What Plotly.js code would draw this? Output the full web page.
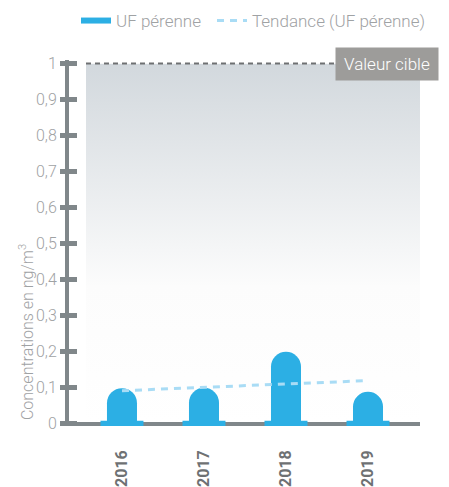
<!DOCTYPE html>
<html>
<head>
<meta charset="utf-8">
<script src="https://cdn.plot.ly/plotly-3.0.1.min.js"></script>
<style>
  html, body { margin: 0; padding: 0; background: #ffffff; }
  #chart { width: 449px; height: 487px; }
</style>
</head>
<body>
<div id="chart"></div>
<script>
// Annual concentrations (ng/m³)
const years = [2016, 2017, 2018, 2019];
const yearLabels = ['2016', '2017', '2018', '2019'];
const ufPerenne = [0.099, 0.1, 0.2, 0.089];
const tendance = [0.092, 0.101, 0.112, 0.12];
const valeurCible = 1;
const yTicks = [0, 0.1, 0.2, 0.3, 0.4, 0.5, 0.6, 0.7, 0.8, 0.9, 1];

const blue = '#2cafe4';
const lightBlue = '#a9dcf5';
const axisGrey = '#80878a';
const textGrey = '#9fa2a4';
const font = 'Roboto, "DejaVu Sans", sans-serif';

// flat "feet" under each bar, on the baseline
const footHalf = 0.262;
const footX = [];
const footY = [];
years.forEach(function (yr) {
  footX.push(yr - footHalf, yr + footHalf, null);
  footY.push(0, 0, null);
});

// vertical fade used behind the plot
const gradSvg = '<svg xmlns="http://www.w3.org/2000/svg" width="10" height="100" preserveAspectRatio="none">' +
  '<defs><linearGradient id="g" x1="0" y1="0" x2="0" y2="1">' +
  '<stop offset="0" stop-color="#d2d8dd"/>' +
  '<stop offset="0.62" stop-color="#fcfcfc"/>' +
  '<stop offset="1" stop-color="#ffffff"/>' +
  '</linearGradient></defs><rect width="10" height="100" fill="url(#g)"/></svg>';
const gradUri = 'data:image/svg+xml;charset=utf-8,' + encodeURIComponent(gradSvg);

const traces = [
  {
    type: 'bar',
    x: years,
    y: ufPerenne,
    width: 0.366,
    marker: { color: blue, cornerradius: 15, line: { width: 0 } },
    showlegend: false,
    hoverinfo: 'x+y'
  },
  {
    type: 'scatter',
    mode: 'lines',
    name: 'UF pérenne',
    x: footX,
    y: footY,
    line: { color: blue, width: 6 },
    connectgaps: false,
    legend: 'legend',
    hoverinfo: 'skip'
  },
  {
    type: 'scatter',
    mode: 'lines',
    name: 'Tendance (UF pérenne)',
    x: years,
    y: tendance,
    yaxis: 'y2',
    line: { color: lightBlue, width: 3, dash: '7px,6px' },
    legend: 'legend2',
    hoverinfo: 'skip'
  }
];

const legendBase = {
  orientation: 'h',
  xref: 'container',
  yref: 'container',
  xanchor: 'left',
  y: 1 - 3 / 487,
  yanchor: 'top',
  font: { family: font, size: 17, color: textGrey, weight: 300 },
  itemclick: false,
  itemdoubleclick: false,
  bgcolor: 'rgba(0,0,0,0)'
};

const layout = {
  width: 449,
  height: 487,
  margin: { l: 69, r: 29, t: 60, b: 61 },
  paper_bgcolor: '#ffffff',
  plot_bgcolor: 'rgba(0,0,0,0)',
  separators: ', ',
  font: { family: font, color: textGrey },
  barmode: 'overlay',
  showlegend: true,
  xaxis: {
    type: 'linear',
    range: [2015.354, 2019.634],
    tickvals: years,
    ticktext: yearLabels,
    tickangle: -90,
    ticks: '',
    showgrid: false,
    zeroline: false,
    showline: false,
    ticklabelstandoff: 20,
    tickfont: { family: font, size: 16, color: '#6e7173', weight: 'bold' },
    fixedrange: true
  },
  yaxis: {
    range: [-0.006, 1.01],
    tickvals: yTicks,
    ticks: 'outside',
    ticklen: 5,
    tickwidth: 5,
    tickcolor: axisGrey,
    showline: true,
    linecolor: axisGrey,
    linewidth: 4,
    showgrid: false,
    zeroline: true,
    zerolinecolor: axisGrey,
    zerolinewidth: 4,
    tickfont: { family: font, size: 16, color: textGrey, weight: 300 },
    fixedrange: true
  },
  yaxis2: {
    overlaying: 'y',
    matches: 'y',
    side: 'left',
    tickvals: yTicks,
    ticks: 'inside',
    ticklen: 8,
    tickwidth: 5,
    tickcolor: axisGrey,
    showticklabels: false,
    showline: false,
    showgrid: false,
    zeroline: false,
    fixedrange: true
  },
  legend: Object.assign({}, legendBase, { x: 76 / 449 }),
  legend2: Object.assign({}, legendBase, { x: 212 / 449 }),
  images: [{
    source: gradUri,
    xref: 'paper',
    yref: 'y',
    x: 17 / 351,
    y: valeurCible,
    sizex: 334 / 351,
    sizey: valeurCible,
    sizing: 'stretch',
    xanchor: 'left',
    yanchor: 'top',
    layer: 'below'
  }],
  shapes: [{
    type: 'line',
    xref: 'paper',
    yref: 'y',
    x0: 17 / 351,
    x1: 266 / 351,
    y0: valeurCible,
    y1: valeurCible,
    line: { color: '#6e7072', width: 2, dash: '5px,4px' },
    layer: 'above'
  }],
  annotations: [
    {
      text: 'Valeur cible',
      xref: 'paper',
      yref: 'y',
      x: 266 / 351,
      y: valeurCible,
      xanchor: 'left',
      yanchor: 'middle',
      showarrow: false,
      bgcolor: '#9d9c9a',
      width: 102,
      height: 32,
      borderpad: 0,
      font: { family: font, size: 17, color: '#ffffff', weight: 300 }
    },
    {
      text: 'Concentrations en ng/m<sup>3</sup>',
      textangle: -90,
      xref: 'paper',
      yref: 'y',
      x: -43 / 351,
      y: 0.005,
      xanchor: 'center',
      yanchor: 'bottom',
      showarrow: false,
      font: { family: font, size: 16, color: textGrey, weight: 300 }
    }
  ]
};

Plotly.newPlot('chart', traces, layout, { displayModeBar: false, staticPlot: true });
</script>
</body>
</html>
